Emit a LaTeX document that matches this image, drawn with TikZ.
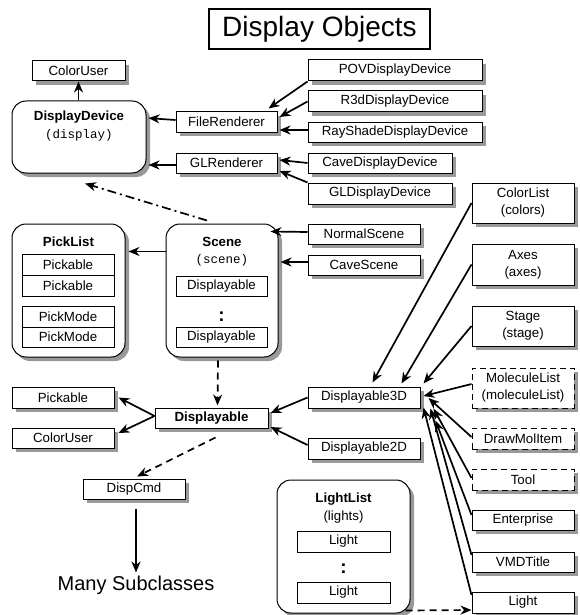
\documentclass[tikz,border=0pt]{standalone}
\usepackage{fontspec}
\setmainfont{Liberation Sans}
\newfontfamily\monof{Liberation Mono}
\usetikzlibrary{arrows.meta,shadows,calc}
\tikzset{
  txt/.style={inner sep=0pt, font=\fontsize{13.3}{17}\selectfont, align=center},
  btxt/.style={txt, font=\fontsize{13.3}{17}\selectfont\bfseries},
  mtxt/.style={inner sep=0pt, font=\fontsize{12.5}{15}\selectfont\monof},
  dots/.style={inner sep=0pt, font=\fontsize{19}{20}\selectfont\bfseries},
  plainbox/.style={draw, line width=1pt, fill=white, inner sep=0pt, txt},
  box/.style={plainbox, drop shadow={shadow xshift=4pt, shadow yshift=-4pt, fill=black!40, opacity=1}},
  dbox/.style={box, dash pattern=on 6pt off 4pt},
  rbox/.style={box, rounded corners=14pt},
  arr/.style={line width=1.7pt, -{Stealth[length=11pt,width=9pt,inset=3.5pt]}},
  darr/.style={arr, dash pattern=on 7pt off 5pt},
  ddarr/.style={arr, dash pattern=on 9pt off 4pt on 2pt off 4pt},
}
\begin{document}
\begin{tikzpicture}[x=1pt,y=-1pt]
\fill[white] (0,0) rectangle (579,615);
\useasboundingbox (0,0) rectangle (579,615);

% title
\node[draw, line width=2pt, inner sep=0pt, minimum width=221pt, minimum height=40pt, font=\fontsize{28}{30}\selectfont] (title) at (319.5,29) {Display Objects};

% top-left group
\node[box, minimum width=93pt, minimum height=20pt] (CUt) at (78.5,71) {ColorUser};
\node[rbox, minimum width=134pt, minimum height=72pt] (DD) at (79,137) {};
\node[btxt] (DDt) at (79,117) {DisplayDevice};
\node[mtxt] (DDm) at (79,135) {(display)};

\node[box, minimum width=101pt, minimum height=20pt] (FR) at (226.5,122) {FileRenderer};
\node[box, minimum width=101pt, minimum height=20pt] (GLR) at (226.5,163) {GLRenderer};

\node[box, minimum width=174pt, minimum height=21pt] (POV) at (395,70.5) {POVDisplayDevice};
\node[box, minimum width=174pt, minimum height=21pt] (R3D) at (395,101.5) {R3dDisplayDevice};
\node[box, minimum width=174pt, minimum height=20pt] (RS) at (395,132) {RayShadeDisplayDevice};
\node[box, minimum width=144pt, minimum height=20pt] (CDD) at (380,163) {CaveDisplayDevice};
\node[box, minimum width=144pt, minimum height=21pt] (GLDD) at (380,193.5) {GLDisplayDevice};

% PickList
\node[rbox, minimum width=113pt, minimum height=133pt] (PL) at (68.5,290.5) {};
\node[btxt] (PLt) at (68.5,242) {PickList};
\node[plainbox, minimum width=92pt, minimum height=21pt] (PK1) at (68,264.5) {Pickable};
\node[plainbox, minimum width=92pt, minimum height=21pt] (PK2) at (68,285.5) {Pickable};
\node[plainbox, minimum width=92pt, minimum height=21pt] (PM1) at (68,316.5) {PickMode};
\node[plainbox, minimum width=92pt, minimum height=20pt] (PM2) at (68,337) {PickMode};

% Scene
\node[rbox, minimum width=112pt, minimum height=133pt] (SC) at (222,290.5) {};
\node[btxt] (SCt) at (222,242) {Scene};
\node[mtxt] (SCm) at (222,260) {(scene)};
\node[plainbox, minimum width=91pt, minimum height=20pt] (SD1) at (221.5,286) {Displayable};
\node[dots] (SCdots) at (221.5,317) {:};
\node[plainbox, minimum width=91pt, minimum height=20pt] (SD2) at (221.5,337) {Displayable};

\node[box, minimum width=112pt, minimum height=20pt] (NS) at (364,234) {NormalScene};
\node[box, minimum width=112pt, minimum height=20pt] (CS) at (364,265) {CaveScene};

% right column
\node[box, minimum width=102pt, minimum height=40pt] (CL) at (523,203) {ColorList\\(colors)};
\node[box, minimum width=102pt, minimum height=41pt] (AX) at (523,264.5) {Axes\\(axes)};
\node[box, minimum width=102pt, minimum height=40pt] (ST) at (523,326) {Stage\\(stage)};
\node[dbox, minimum width=102pt, minimum height=40pt] (ML) at (523,388) {MoleculeList\\(moleculeList)};
\node[dbox, minimum width=102pt, minimum height=21pt] (DMI) at (523,438.5) {DrawMolItem};
\node[dbox, minimum width=102pt, minimum height=21pt] (TL) at (523,479.5) {Tool};
\node[box, minimum width=102pt, minimum height=20pt] (EN) at (523,520) {Enterprise};
\node[box, minimum width=102pt, minimum height=20pt] (VT) at (523,562) {VMDTitle};
\node[box, minimum width=102pt, minimum height=21pt] (LT) at (523,602.5) {Light};

% middle
\node[box, minimum width=112pt, minimum height=21pt] (D3) at (364,397.5) {Displayable3D};
\node[box, minimum width=112pt, minimum height=21pt] (D2) at (364,448.5) {Displayable2D};
\node[box, minimum width=113pt, minimum height=20pt, font=\fontsize{13.3}{17}\selectfont\bfseries] (DI) at (211.5,418) {Displayable};
\node[box, minimum width=102pt, minimum height=21pt] (PK) at (63,397.5) {Pickable};
\node[box, minimum width=102pt, minimum height=20pt] (CU2) at (63,438) {ColorUser};
\node[box, minimum width=102pt, minimum height=20pt] (DC) at (134,489) {DispCmd};
\node[inner sep=0pt, font=\fontsize{20}{22}\selectfont] (MS) at (136,585) {Many Subclasses};

% LightList
\node[rbox, minimum width=133pt, minimum height=133pt] (LL) at (343.5,546.5) {};
\node[btxt] (LLt) at (343.5,499) {LightList};
\node[txt] (LLm) at (343.5,517) {(lights)};
\node[plainbox, minimum width=93pt, minimum height=21pt] (LL1) at (343.5,541.5) {Light};
\node[dots] (LLdots) at (343.5,569) {:};
\node[plainbox, minimum width=93pt, minimum height=21pt] (LL2) at (343.5,592.5) {Light};

% connectors
\draw[arr] (DD.north -| CUt.south) -- (CUt.south);
\draw[arr, shorten >=2pt] ($(FR.west)+(0,-2)$) -- ($(DD.east)+(0,-19)$);
\draw[arr, shorten >=2pt] ($(GLR.west)+(0,2)$) -- ($(DD.east)+(0,28)$);
\draw[arr] (POV.south west) -- ($(FR.north east)+(-9,-3)$);
\draw[arr] (R3D.west) -- ($(FR.east)+(2,-5)$);
\draw[arr] ($(RS.west)+(0,-2)$) -- ($(FR.east)+(2,8)$);
\draw[arr] (CDD.west) -- ($(GLR.east)+(2,-3)$);
\draw[arr] (GLDD.north west) -- ($(GLR.east)+(2,8)$);
\draw[ddarr] ($(SC.north)+(-15,-3)$) -- ($(DD.south)+(6,10)$);
\draw[arr] ($(SC.north west)+(0,28)$) -- ($(PL.north east)+(3,28)$);
\draw[arr] ($(NS.west)+(0,-2)$) -- ($(SC.north east)+(-8,8)$);
\draw[arr] ($(CS.west)+(0,-3)$) -- ($(SC.east)+(2,-28.5)$);

\draw[arr] (CL.west) -- ($(D3.north west)+(65,-4)$);
\draw[arr] (AX.west) -- ($(D3.north west)+(94,-3)$);
\draw[arr] (ST.west) -- ($(D3.north east)+(3,-3)$);
\draw[arr] ($(ML.west)+(0,-4)$) -- ($(D3.east)+(3,-1.5)$);
\draw[arr] ($(DMI.west)+(0,-1.5)$) -- ($(D3.east)+(8,0.5)$);
\draw[arr] ($(TL.west)+(0,-1.5)$) -- ($(D3.south east)+(13,0)$);
\draw[arr] ($(EN.west)+(0,-5)$) -- ($(D3.south east)+(15,12)$);
\draw[arr] ($(VT.west)+(0,-7)$) -- ($(D3.south east)+(10,0)$);
\draw[arr] ($(LT.west)+(0,-7.5)$) -- ($(D3.south east)+(3,-1)$);

\draw[arr] (D3.west) -- ($(DI.east)+(2,-5)$);
\draw[arr] ($(D2.west)+(0,-3.5)$) -- ($(DI.east)+(2,9)$);
\draw[arr] ($(DI.west)+(0,-2)$) -- ($(PK.east)+(4,0)$);
\draw[arr] ($(DI.west)+(0,-2)$) -- ($(CU2.east)+(4,-5)$);
\draw[darr] ($(SC.south)+(-4,3)$) -- ($(DI.north)+(6,-2)$);
\draw[darr] ($(DI.south)+(4,9)$) -- ($(DC.north)+(3,-2)$);
\draw[arr, shorten >=3pt] ($(DC.south)+(2,9)$) -- ($(MS.north)+(0,0)$);
\draw[darr] ($(LL.south east)+(-5,-3)$) -- ($(LT.west)+(0,7.5)$);
\end{tikzpicture}
\end{document}
